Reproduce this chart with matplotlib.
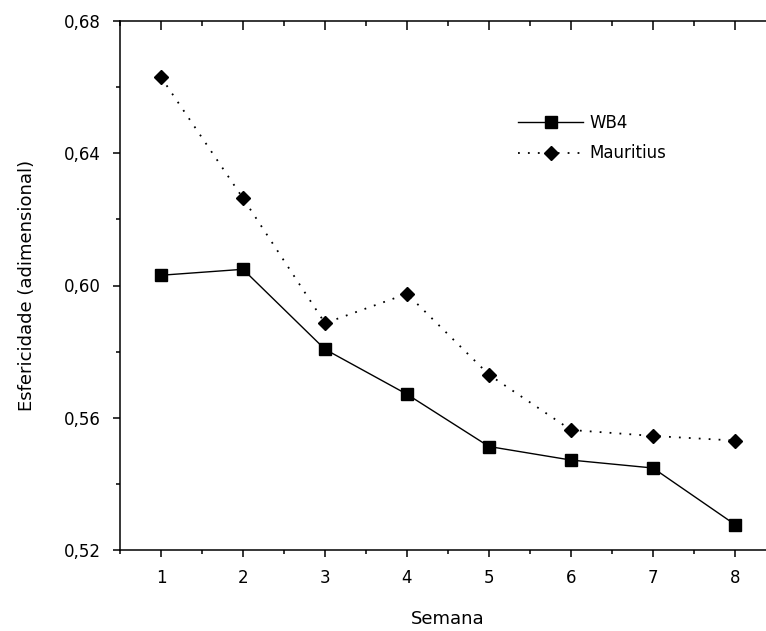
import matplotlib
matplotlib.use("Agg")
import matplotlib.pyplot as plt
from matplotlib.ticker import MultipleLocator, FuncFormatter

# --- Datos ---
semanas = [1, 2, 3, 4, 5, 6, 7, 8]
wb4 = [0.6031, 0.6049, 0.5807, 0.5671, 0.5513, 0.5472, 0.5448, 0.5277]
mauritius = [0.6630, 0.6264, 0.5886, 0.5975, 0.5730, 0.5563, 0.5545, 0.5531]
etiquetas = ['WB4', 'Mauritius']

plt.rcParams['font.family'] = ['DejaVu Sans']
plt.rcParams['font.size'] = 12

W, H = 766, 631
fig = plt.figure(figsize=(W / 100, H / 100), dpi=100)
fig.patch.set_facecolor('white')

# el eje derecho queda fuera de la imagen, como en el original
ax = fig.add_axes([120 / W, (H - 550) / H, 656 / W, 529 / H])

ax.plot(semanas, wb4, color='black', lw=1.0, marker='s', ms=8,
        label=etiquetas[0])
ax.plot(semanas, mauritius, color='black', lw=1.3, linestyle=(0, (1, 4.5)),
        marker='D', ms=7.5, label=etiquetas[1])

ax.set_xlim(0.5, 8.5)
ax.set_ylim(0.52, 0.68)
ax.xaxis.set_major_locator(MultipleLocator(1))
ax.xaxis.set_minor_locator(MultipleLocator(0.5))
ax.yaxis.set_major_locator(MultipleLocator(0.04))
ax.yaxis.set_minor_locator(MultipleLocator(0.02))
ax.yaxis.set_major_formatter(FuncFormatter(lambda v, p: f"{v:.2f}".replace('.', ',')))

ax.spines['right'].set_visible(False)
for s in ['left', 'bottom', 'top']:
    ax.spines[s].set_linewidth(1.1)

ax.tick_params(axis='both', which='major', direction='out', length=5, width=1.1,
               pad=9, labelsize=12)
ax.tick_params(axis='both', which='minor', direction='out', length=3, width=1.1)
ax.tick_params(axis='x', which='both', top=True)
# marcas del borde superior hacia dentro
for t in ax.xaxis.get_major_ticks():
    t.tick2line.set_marker(matplotlib.lines.TICKDOWN)
    t.tick2line.set_markersize(6.5)
for t in ax.xaxis.get_minor_ticks():
    t.tick2line.set_marker(matplotlib.lines.TICKDOWN)
    t.tick2line.set_markersize(3.5)

ax.set_xlabel('Semana', fontsize=13, labelpad=16)
ax.set_ylabel('Esfericidade (adimensional)', fontsize=13, labelpad=20)

ax.legend(loc='upper left', bbox_to_anchor=(518 / W, (H - 114) / H),
          bbox_transform=fig.transFigure, frameon=False, borderpad=0,
          borderaxespad=0, handlelength=3.9, handletextpad=0.4,
          labelspacing=0.75, fontsize=12)

fig.savefig('out.png', dpi=100, facecolor='white')
